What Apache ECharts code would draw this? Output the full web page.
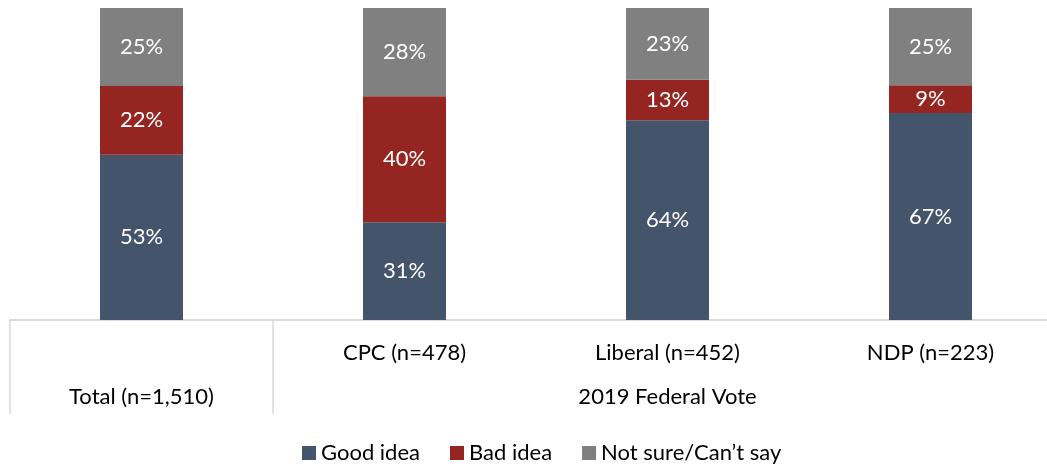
<!DOCTYPE html>
<html>
<head>
<meta charset="utf-8">
<script src="https://cdn.jsdelivr.net/npm/echarts@6/dist/echarts.min.js"></script>
<style>
  html, body { margin: 0; padding: 0; background: #fff; }
  #chart { width: 1047px; height: 464px; }
</style>
</head>
<body>
<div id="chart"></div>
<script>
const categories = ['Total (n=1,510)', 'CPC (n=478)', 'Liberal (n=452)', 'NDP (n=223)']
const groupLabel = '2019 Federal Vote'
const goodIdea = [53, 31, 64, 67]
const badIdea = [22, 40, 13, 9]
const notSure = [25, 28, 23, 25]

const seriesNames = ['Good idea', 'Bad idea', 'Not sure/Can\u2019t say']
const colors = ['#44546A', '#952520', '#808080']
const font = 'Lato, "Open Sans", sans-serif'

// 100% stacked: bar height is the share of the row total, label shows the value
const totals = categories.map((c, i) => goodIdea[i] + badIdea[i] + notSure[i])
const toShare = arr => arr.map((v, i) => ({ value: v / totals[i] * 100, raw: v }))

const chart = echarts.init(document.getElementById('chart'))

chart.setOption({
  animation: false,
  textStyle: { fontFamily: font },
  grid: { left: 10, top: 8, width: 1052, height: 312, outerBoundsMode: 'none' },
  legend: {
    top: 437,
    left: 297,
    itemWidth: 14,
    itemHeight: 14,
    itemGap: 30,
    icon: 'rect',
    textStyle: { fontFamily: font, fontSize: 22, color: '#000' },
    data: seriesNames
  },
  xAxis: [{
    type: 'category',
    data: categories,
    axisLine: { lineStyle: { color: '#D9D9D9', width: 2 } },
    axisTick: {
      show: true,
      length: 94,
      interval: (i) => i <= 1,
      lineStyle: { color: '#D9D9D9', width: 1.5 }
    },
    axisLabel: {
      interval: 0,
      margin: 22,
      fontSize: 22,
      color: '#000',
      formatter: (v, i) => i === 0 ? '{low|' + v + '}' : v,
      rich: { low: { fontSize: 22, color: '#000', padding: [44, 0, 0, 0] } }
    }
  }, {
    type: 'value',
    position: 'bottom',
    min: 0,
    max: 4,
    interval: 0.5,
    axisLine: { show: false },
    axisTick: { show: false },
    splitLine: { show: false },
    axisLabel: {
      margin: 66,
      fontSize: 22,
      color: '#000',
      showMinLabel: true,
      showMaxLabel: true,
      formatter: v => v === 2.5 ? groupLabel : ''
    }
  }],
  yAxis: {
    type: 'value',
    min: 0,
    max: 100,
    show: false
  },
  series: [goodIdea, badIdea, notSure].map((arr, k) => ({
    name: seriesNames[k],
    type: 'bar',
    stack: 'all',
    xAxisIndex: 0,
    barWidth: 83,
    data: toShare(arr),
    itemStyle: { color: colors[k] },
    label: {
      show: true,
      position: 'inside',
      color: '#fff',
      fontSize: 22,
      fontFamily: font,
      formatter: p => p.data.raw + '%'
    }
  }))
})
</script>
</body>
</html>
